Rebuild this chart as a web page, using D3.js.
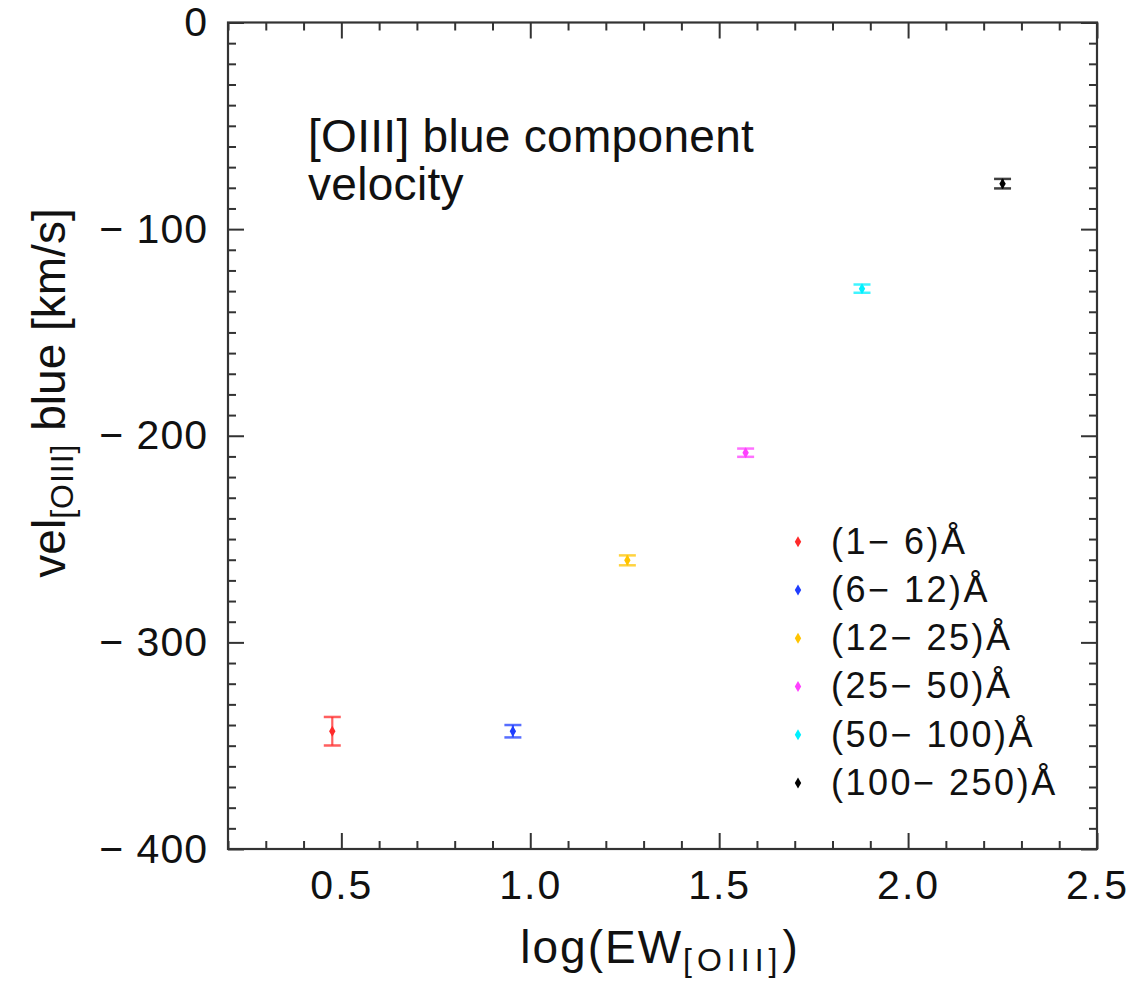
<!DOCTYPE html>
<html>
<head>
<meta charset="utf-8">
<script src="https://cdn.jsdelivr.net/npm/d3@7"></script>
<style>
  html, body { margin: 0; padding: 0; background: #fff; }
  svg { display: block; font-family: "Liberation Sans", Arial, sans-serif; }
</style>
</head>
<body>
<svg id="chart" width="1134" height="987"></svg>
<script>
// ---- data ----
const categories = ["(1\u2212 6)\u00C5", "(6\u2212 12)\u00C5", "(12\u2212 25)\u00C5", "(25\u2212 50)\u00C5", "(50\u2212 100)\u00C5", "(100\u2212 250)\u00C5"];
const colors = ["#ff2a2a", "#1f3dff", "#ffc400", "#ff40ff", "#00f0ff", "#000000"];
const logEW = [0.476, 0.954, 1.257, 1.570, 1.878, 2.250];
const velBlue = [-343, -343, -260.3, -208.2, -128.8, -78.0];
const velErr = [6.9, 3.0, 2.4, 2.0, 2.0, 2.3];
const xTicks = [0.5, 1.0, 1.5, 2.0, 2.5];
const yTicks = [-400, -300, -200, -100, 0];

// ---- layout ----
const svg = d3.select("#chart");
const L = 228, R = 1097, T = 22.5, B = 849;
const x = d3.scaleLinear().domain([0.2, 2.5]).range([L, R]);
const y = d3.scaleLinear().domain([-400, 0]).range([B, T]);

const xMinor = d3.range(2, 26).map(d => d / 10).filter(v => Math.abs(v * 2 - Math.round(v * 2)) > 1e-6);
const yMinor = d3.range(-400, 1, 10).filter(v => v % 100 !== 0);

const fmtY = d => d < 0 ? "\u2212 " + Math.abs(d) : String(d);
const fmtX = d3.format(".1f");

function styleAxis(g) {
  g.select(".domain").remove();
  g.selectAll(".tick line").attr("stroke", "#333").attr("stroke-width", 2);
  g.selectAll(".tick text").attr("fill", "#111").style("font-size", "41px")
    .style("font-family", "'Liberation Sans', Arial, sans-serif");
}

// bottom
svg.append("g").attr("transform", `translate(0,${B})`)
  .call(d3.axisBottom(x).tickValues(xTicks).tickFormat(fmtX).tickSize(-16).tickPadding(21))
  .call(styleAxis).selectAll(".tick text").attr("letter-spacing", "2px");
svg.append("g").attr("transform", `translate(0,${B})`)
  .call(d3.axisBottom(x).tickValues(xMinor).tickFormat("").tickSize(-8)).call(styleAxis);
// top
svg.append("g").attr("transform", `translate(0,${T})`)
  .call(d3.axisTop(x).tickValues(xTicks).tickFormat("").tickSize(-16)).call(styleAxis);
svg.append("g").attr("transform", `translate(0,${T})`)
  .call(d3.axisTop(x).tickValues(xMinor).tickFormat("").tickSize(-8)).call(styleAxis);
// left
svg.append("g").attr("transform", `translate(${L},0)`)
  .call(d3.axisLeft(y).tickValues(yTicks).tickFormat(fmtY).tickSize(-16).tickPadding(20))
  .call(styleAxis).selectAll(".tick text").attr("letter-spacing", "1px");
svg.append("g").attr("transform", `translate(${L},0)`)
  .call(d3.axisLeft(y).tickValues(yMinor).tickFormat("").tickSize(-8)).call(styleAxis);
// right
svg.append("g").attr("transform", `translate(${R},0)`)
  .call(d3.axisRight(y).tickValues(yTicks).tickFormat("").tickSize(-16)).call(styleAxis);
svg.append("g").attr("transform", `translate(${R},0)`)
  .call(d3.axisRight(y).tickValues(yMinor).tickFormat("").tickSize(-8)).call(styleAxis);

// frame
svg.append("rect").attr("x", L).attr("y", T).attr("width", R - L).attr("height", B - T)
  .attr("fill", "none").attr("stroke", "#333").attr("stroke-width", 2.2);

// ---- data marks ----
const pts = logEW.map((v, i) => ({ x: v, y: velBlue[i], e: velErr[i], c: colors[i] }));
const capW = 8.5;
const gp = svg.append("g");
const eg = gp.selectAll("g.pt").data(pts).enter().append("g").attr("class", "pt");
eg.append("line")
  .attr("x1", d => x(d.x)).attr("x2", d => x(d.x))
  .attr("y1", d => y(d.y - d.e)).attr("y2", d => y(d.y + d.e))
  .attr("stroke", d => d.c).attr("stroke-width", 2.2).attr("stroke-opacity", 0.75);
eg.append("line")
  .attr("x1", d => x(d.x) - capW).attr("x2", d => x(d.x) + capW)
  .attr("y1", d => y(d.y - d.e)).attr("y2", d => y(d.y - d.e))
  .attr("stroke", d => d.c).attr("stroke-width", 2.5).attr("stroke-opacity", 0.75);
eg.append("line")
  .attr("x1", d => x(d.x) - capW).attr("x2", d => x(d.x) + capW)
  .attr("y1", d => y(d.y + d.e)).attr("y2", d => y(d.y + d.e))
  .attr("stroke", d => d.c).attr("stroke-width", 2.5).attr("stroke-opacity", 0.75);
const diamond = "M0,-5.5L3.2,0L0,5.5L-3.2,0Z";
eg.append("path")
  .attr("d", diamond)
  .attr("transform", d => `translate(${x(d.x)},${y(d.y)})`)
  .attr("fill", d => d.c);

// ---- legend ----
const lg = svg.append("g");
const ly = d3.scaleLinear().domain([0, 5]).range([541.7, 783]);
categories.forEach((c, i) => {
  lg.append("path").attr("d", diamond).attr("transform", `translate(798,${ly(i)})`).attr("fill", colors[i]);
  lg.append("text").attr("x", 831).attr("y", ly(i) + 12)
    .style("font-size", "36px").attr("letter-spacing", "2.5px").attr("fill", "#111").text(c);
});

// ---- annotation ----
const ann = svg.append("text").attr("x", 308).attr("y", 152).style("font-size", "46px").attr("fill", "#111").attr("letter-spacing", "0.3px");
ann.append("tspan").attr("x", 308).text("[OIII] blue component");
ann.append("tspan").attr("x", 308).attr("y", 200).text("velocity");

// ---- axis titles ----
const xt = svg.append("text").attr("x", 660).attr("y", 963).attr("text-anchor", "middle")
  .style("font-size", "46px").attr("fill", "#111").attr("letter-spacing", "2px");
xt.append("tspan").text("log(EW");
xt.append("tspan").attr("dy", 8).style("font-size", "32px").attr("letter-spacing", "5px").text("[OIII]");
xt.append("tspan").attr("dy", -8).text(")");

const yt = svg.append("text").attr("transform", "translate(65,393) rotate(-90)").attr("text-anchor", "middle")
  .style("font-size", "46px").attr("fill", "#111");
yt.append("tspan").text("vel");
yt.append("tspan").attr("dy", 8).style("font-size", "32px").attr("letter-spacing", "1px").text("[OIII]");
yt.append("tspan").attr("dy", -8).text(" blue [km/s]");
</script>
</body>
</html>
